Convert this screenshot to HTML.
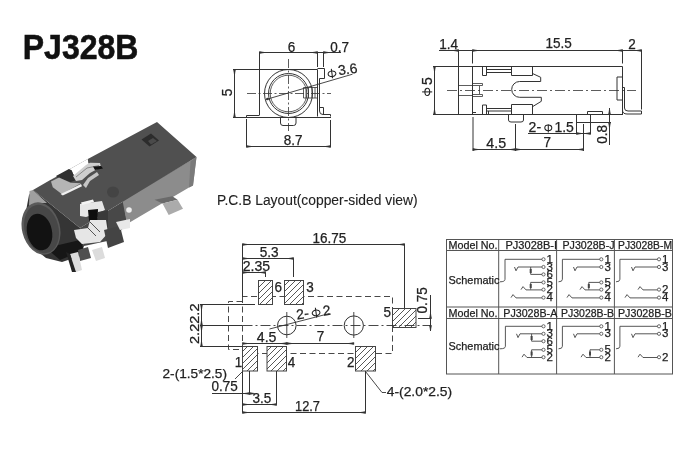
<!DOCTYPE html>
<html><head><meta charset="utf-8">
<style>
html,body{margin:0;padding:0;background:#fff;width:700px;height:450px;overflow:hidden}
svg{display:block;will-change:transform}
text{font-family:"Liberation Sans",sans-serif;fill:#222;stroke:#222;stroke-width:0.25px}
</style></head><body>
<svg width="700" height="450" viewBox="0 0 700 450">
<defs>
<pattern id="h" patternUnits="userSpaceOnUse" width="6" height="6">
<path d="M-1,7 L7,-1 M-2,2 L2,-2 M4,8 L8,4" stroke="#444" stroke-width="0.9"/>
</pattern>
</defs>
<rect width="700" height="450" fill="#fff"/>

<!-- TITLE -->
<text x="22.8" y="59" font-size="34.5" font-weight="bold" textLength="115.5" lengthAdjust="spacingAndGlyphs" style="fill:#111;stroke:#111;stroke-width:0.6px">PJ328B</text>

<!-- PHOTO -->
<g id="photo" stroke="none">
<!-- side face -->
<path d="M124,201 L80,228 L84,246 L112,240 L127,224 Z" fill="#484848"/>
<path d="M196.5,157 L193,185.6 L189,187.4 L127,224 L122.5,200.5 Z" fill="#8c8c8c"/>
<path d="M196.5,157 L193,185.6 L189,187.4 L190.5,161.5 Z" fill="#7a7a7a"/>
<!-- front face -->
<path d="M33,190 L80,228 L84,246 L80,256 L62,262 L46,258 L30,245 L24,222 L29,195 Z" fill="#353535"/>
<path d="M46,248 L80,240 L84,250 L60,260 Z" fill="#161616"/>
<!-- front-left lighter band -->
<path d="M29.5,191 L33,190 L47,203 L37,203 L29,206 Z" fill="#a0a0a0"/>
<!-- top face -->
<path d="M33,190 L49.4,180.6 L87.8,158.9 L157,122 L196.5,157 L126,199.8 L80,228 Z" fill="#505050"/>
<!-- notch (white) -->
<path d="M49.4,180.6 L58.3,175 L68.9,168.9 L71.7,170.6 L73.3,174.4 L78.3,177.2 L89.4,164 L88.3,163.3 L87.8,158.9 Z" fill="#fff"/>
<!-- bump -->
<path d="M56,176 L68.9,168.9 L71.7,170.6 L73.3,174.4 L78.3,177.2 L81,178.5 L70.6,182 L58,178 Z" fill="#303030"/>
<!-- silver -->
<path d="M51,181.5 L59,177.5 L70.6,182.8 L81,183.3 L61.7,194 L52.8,187.2 Z" fill="#b5b5b5"/>
<path d="M60.6,194 L81,184 L82,186.3 L62.8,195.5 Z" fill="#f0f0f0"/>
<!-- bent pins -->
<path d="M73,176 L86,165 L90,162.7 L100,163 L101,167 L90,173 L82,180 L76,181 Z" fill="#cfcfcf"/><path d="M76,177 L87,168 L99,165.5" fill="none" stroke="#777" stroke-width="0.8"/>
<path d="M83,185 L88,178 L97,172 L99,175 L90,181 L86,188 Z" fill="#c4c4c4"/>
<path d="M93,166.5 L101,166 L103,168.5 L95,170 Z" fill="#111"/>
<!-- square hole -->
<path d="M141.5,139.5 L151,133.5 L159,140.5 L149.5,146.5 Z" fill="#2c2c2c"/>
<path d="M148,141 L153,138 L157,141 L151,144.5 Z" fill="#4a4a4a"/>
<!-- dimple -->
<ellipse cx="113" cy="192" rx="6" ry="5.5" fill="#444"/>
<!-- barrel -->
<ellipse cx="41" cy="228.5" rx="19" ry="26.5" transform="rotate(-14 41 228.5)" fill="#5a5a5a"/>
<ellipse cx="41.5" cy="229" rx="17" ry="24.5" transform="rotate(-14 41.5 229)" fill="#474747"/>
<ellipse cx="39.5" cy="232" rx="12.5" ry="18.5" transform="rotate(-12 39.5 232)" fill="#121212"/>
<!-- tab -->
<path d="M154.5,199.8 L172.3,196.3 L177.6,199.8 L162.5,203.4 Z" fill="#6a6a6a"/>
<path d="M162.5,203.4 L177.6,199.8 L183,208.7 L168.7,215 Z" fill="#ababab"/>
<!-- white hole in side -->
<circle cx="129" cy="210" r="2.8" fill="#eee"/>
<!-- front contacts -->
<path d="M80,204 L102,201 L105,210 L98,213 L86,217 L80,216 Z" fill="#e6e6e6"/>
<path d="M81,202.5 L93,199.5 L94,202 L82,205 Z" fill="#f4f4f4"/>
<path d="M88,210 L98,209 L97,231 L90,231 Z" fill="#0e0e0e"/>
<path d="M98,212 L108,210 L108,229 L97,231 Z" fill="#3a3a3a"/>
<path d="M74,230 L88,228 L90,220 L106,220 L108,233 L100,242 L82,244 L76,238 Z" fill="#e6e6e6"/><path d="M88,228 L96,236 M90,222 L100,232" stroke="#555" stroke-width="1" fill="none"/>
<path d="M104,230 L120,226 L124,242 L108,248 Z" fill="#444"/>
<path d="M116,222 L130,219 L130,228 L120,230 Z" fill="#e8e8e8"/>
<path d="M78,250 L88,247 L91,258 L80,261 Z" fill="#505050"/>
<path d="M70,254 L78,252 L82,270 L76,272 Z" fill="#dcdcdc"/>
<path d="M92,250 L102,247 L105,258 L96,261 Z" fill="#dcdcdc"/>
<path d="M66,252 L70,254 L76,272 L72,272 Z" fill="#222"/>
</g>

<!-- FRONT VIEW -->
<g id="front" fill="none" stroke="#333" stroke-width="1">
<!-- dims top -->
<path d="M259.5,52.5 H341 M259.5,52 V115 M317.5,52 V67 M323.5,52 V67"/>
<path d="M259.5,51.5 l5,1 l-5,1z M317.5,51.5 l-5,1 l5,1z M323.5,51.5 l5,1 l-5,1z" fill="#333" stroke-width="0.6"/>
<!-- dim 5 -->
<path d="M234.5,69.5 V117.5 M233,69.5 H317.5 M233,117.5 H331"/>
<path d="M233.5,69.5 l1,5 l1,-5z M233.5,117.5 l1,-5 l1,5z" fill="#333" stroke-width="0.6"/>
<!-- body -->
<path d="M246.5,117.5 V115.5 H259.5 M317.5,69.5 V116.5 M317.5,68.5 H324.5 V78.5 H319.5 V111 Q319.5,114.5 323,114.5 H330.5 V116.5 M319.5,107.5 H323.5 V114.5"/>
<!-- circles -->
<circle cx="288.5" cy="93.5" r="24"/>
<circle cx="288.5" cy="93.5" r="20"/>
<circle cx="288.5" cy="93.5" r="18.3" stroke-width="0.8"/>
<!-- contact detail right of circle -->
<path d="M303.5,87.5 H317.5 M303.5,98 H317.5 M303.5,87.5 V98 M306,87.5 V98 M308.5,87.5 V98 M312,87.5 V98 M315,87.5 V98" stroke-width="0.8"/>
<!-- centerlines -->
<path d="M288.5,59 V131" stroke-dasharray="9 2.5 2 2.5" stroke-width="0.8"/>
<path d="M247,93.5 H331" stroke-dasharray="9 2.5 2 2.5" stroke-width="0.8"/>
<!-- bottom tab -->
<path d="M280.5,117.5 V123 Q280.5,125.5 283,125.5 H293.5 Q296,125.5 296,123 V117.5"/>
<!-- leader phi3.6 -->
<path d="M266,99.5 L352.5,74.2" stroke-width="0.9"/>
<circle cx="267.5" cy="99" r="1.3" fill="#333" stroke="none"/>
<!-- 8.7 dim -->
<path d="M246.5,119 V147 M330.5,120 V147 M246.5,146.5 H330.5"/>
<path d="M246.5,145.5 l5,1 l-5,1z M330.5,145.5 l-5,1 l5,1z" fill="#333" stroke-width="0.6"/>
</g>
<text x="287.8" y="51.7" font-size="14" textLength="7.51" lengthAdjust="spacingAndGlyphs">6</text>
<text x="330.2" y="51.7" font-size="14" textLength="18.77" lengthAdjust="spacingAndGlyphs">0.7</text>
<g transform="translate(332,73.8) rotate(-8)"><g transform="translate(0,0) rotate(0)" fill="none" stroke="#222" stroke-width="1.05"><ellipse cx="0" cy="0" rx="3.9" ry="2.8"/><path d="M0,-4.9 V4.5"/></g><text x="6.4" y="2.4" font-size="14">3.6</text></g>

<text x="283.7" y="144.7" font-size="14" textLength="18.77" lengthAdjust="spacingAndGlyphs">8.7</text>
<text transform="translate(231.6,96.3) rotate(-90)" font-size="14" textLength="7.51" lengthAdjust="spacingAndGlyphs">5</text>

<!-- SIDE VIEW -->
<g id="side" fill="none" stroke="#333" stroke-width="1">
<path d="M439,50.5 H641.5 M458.5,50 V114 M472.5,50 V63.5 M622.5,50 V63.5 M641.5,50 V109.5"/>
<path d="M458.5,49.5 l-5,1 l5,1z M472.5,49.5 l5,1 l-5,1z M622.5,49.5 l-5,1 l5,1z M641.5,49.5 l-5,1 l5,1z" fill="#333" stroke-width="0.6"/>
<path d="M433,66.5 H622.5 V114 M433,114.5 H623 M472.5,66.5 V114"/>
<path d="M434.5,66.5 V114.5"/>
<path d="M433.5,66.5 l1,5 l1,-5z M433.5,114.5 l1,-5 l1,5z" fill="#333" stroke-width="0.6"/>
<path d="M447,90.5 H636" stroke-dasharray="10 3 2 3" stroke-width="0.8"/>
<!-- left block inner -->
<path d="M458.5,85.5 H472.5 M458.5,95.5 H472.5" stroke-width="0.8"/>
<!-- pins -->
<path d="M472.5,83.5 H482.5 V85.5 H472.5 M472.5,94.5 H482.5 V96.5 H472.5 M479.5,86 V94" stroke-width="0.8"/>
<!-- top contact -->
<path d="M482.5,66.5 V75.5 H486.5 V66.5 M486.5,69.5 H511.5 M486.5,72.5 H511.5 M511.5,66.5 V75.5 H532.5 V66.5 M532.5,73.5 L540.7,77.3 V81.5 H519.6 A7.6,7.6 0 0 0 519.6,97.3 H541.3 V101.3 L532.5,106.7"/>
<!-- bottom contact -->
<path d="M472.5,112.5 H476 M482.5,114 V105 H486.5 V114 M486.5,108.5 H511.5 M486.5,111 H511.5 M488.5,111 V114 M511.5,114 V104.5 H532.5 V114"/>
<!-- tabs -->
<path d="M508.5,114.5 V120 Q508.5,122 511,122 H521 Q523.5,122 523.5,120 V114.5"/>
<path d="M576.5,114.5 V122.5 H590.5 V114.5"/>
<path d="M587.5,114 V111.5 H602.5 V114"/>
<!-- right bracket -->
<path d="M617,100 V77 H622.5 M617,100 H622.5 M622.5,87.5 H624.5 V108 Q624.5,111 628,111 H641.5 V114 H627 Q622.5,114 622.5,110"/>
<!-- 4.5 / 7 -->
<path d="M473,117 V151 M515.5,124 V151 M583.5,124 V151 M473,149.5 H583.5"/>
<path d="M473,148.5 l5,1 l-5,1z M515.5,148.5 l-5,1 l5,1z M515.5,148.5 l5,1 l-5,1z M583.5,148.5 l-5,1 l5,1z" fill="#333" stroke-width="0.6"/>
<!-- 2-phi1.5 -->
<path d="M528,133.5 H590.5 M576.5,122 V134 M590.5,122 V134"/>
<path d="M576.5,132.5 l5,1 l-5,1z M590.5,132.5 l-5,1 l5,1z" fill="#333" stroke-width="0.6"/>
<!-- 0.8 -->
<path d="M590.5,122.5 H611 M609.5,108 V145"/>
<path d="M608.5,114.5 l1,-5 l1,5z M608.5,122.5 l1,5 l1,-5z" fill="#333" stroke-width="0.6"/>
</g>
<text x="439.3" y="49.4" font-size="14" textLength="18.77" lengthAdjust="spacingAndGlyphs">1.4</text>
<text x="545.6" y="48.4" font-size="14" textLength="26.28" lengthAdjust="spacingAndGlyphs">15.5</text>
<text x="628.3" y="49.1" font-size="14" textLength="7.51" lengthAdjust="spacingAndGlyphs">2</text>
<g transform="translate(427.3,91.9) rotate(0)" fill="none" stroke="#222" stroke-width="1.05"><ellipse cx="0" cy="0" rx="2.4" ry="3.6"/><path d="M-5.2,0 H4.9"/></g><text transform="translate(431.9,84.9) rotate(-90)" font-size="14">5</text>
<text x="486.3" y="148.4" font-size="14" textLength="19.8" lengthAdjust="spacingAndGlyphs">4.5</text>
<text x="543.6" y="146.9" font-size="14" textLength="7.51" lengthAdjust="spacingAndGlyphs">7</text>
<text x="528.6" y="132.1" font-size="14">2-</text><g transform="translate(548.3,127.8) rotate(0)" fill="none" stroke="#222" stroke-width="1.05"><ellipse cx="0" cy="0" rx="3.5" ry="2.9"/><path d="M0,-3.4 V4.6"/></g><text x="554.4" y="132.1" font-size="14">1.5</text>
<text transform="translate(606.9,143.7) rotate(-90)" font-size="14" textLength="18.77" lengthAdjust="spacingAndGlyphs">0.8</text>

<!-- PCB -->
<text x="217" y="205" font-size="14" style="stroke-width:0.1px" textLength="200.5" lengthAdjust="spacingAndGlyphs">P.C.B Layout(copper-sided view)</text>
<g id="pcb" fill="none" stroke="#333" stroke-width="1">
<!-- 16.75 -->
<path d="M242.5,244.5 H404.5 M242.5,244 V297 M404.5,244 V308"/>
<path d="M242.5,243.5 l5,1 l-5,1z M404.5,243.5 l-5,1 l5,1z" fill="#333" stroke-width="0.6"/>
<!-- 5.3 -->
<path d="M242.5,258.5 H293.5 V277"/>
<path d="M242.5,257.5 l5,1 l-5,1z M293.5,257.5 l-5,1 l5,1z" fill="#333" stroke-width="0.6"/>
<!-- 2.35 -->
<path d="M242.5,272.5 H265.5 V277"/>
<path d="M242.5,271.5 l5,1 l-5,1z M265.5,271.5 l-5,1 l5,1z" fill="#333" stroke-width="0.6"/>
<!-- outline dashed -->
<path d="M242.5,297 V353.5 H392.5 V296.5 H242.5" stroke-dasharray="6 3.5" stroke-width="0.9"/>
<path d="M242.5,301.5 H228.5 V349.5 H242.5" stroke-dasharray="6 3.5" stroke-width="0.9"/>
<!-- pads -->
<g fill="#fff" stroke="none">
<rect x="258.5" y="280.5" width="14" height="24"/>
<rect x="284.5" y="280.5" width="19" height="24"/>
<rect x="242.5" y="346.5" width="15" height="24.5"/>
<rect x="267" y="346.5" width="19.5" height="24.5"/>
<rect x="355.5" y="346.5" width="20" height="24.5"/>
<rect x="392.5" y="308.5" width="23.5" height="19"/>
</g>
<g fill="url(#h)" stroke="#444">
<rect x="258.5" y="280.5" width="14" height="24"/>
<rect x="284.5" y="280.5" width="19" height="24"/>
<rect x="242.5" y="346.5" width="15" height="24.5"/>
<rect x="267" y="346.5" width="19.5" height="24.5"/>
<rect x="355.5" y="346.5" width="20" height="24.5"/>
<rect x="392.5" y="308.5" width="23.5" height="19"/>
</g>
<!-- 2.2 dims -->
<path d="M200,304.5 H255 M200,346.5 H242.5 M201.5,304.5 V346.5"/>
<path d="M200.5,304.5 l1,5 l1,-5z M200.5,325.5 l1,-5 l1,5z M200.5,325.5 l1,5 l1,-5z M200.5,346.5 l1,-5 l1,5z" fill="#333" stroke-width="0.6"/>
<path d="M200,325.5 H242.5"/>
<path d="M242.5,325.5 H431" stroke-dasharray="10 3 2 3" stroke-width="0.9"/>
<!-- holes -->
<circle cx="286.8" cy="325.5" r="9.3"/>
<circle cx="353.8" cy="325.5" r="9.6"/>
<path d="M286.8,312 V338 M353.8,312 V338" stroke-width="0.9"/>
<!-- leader 2-phi2 -->
<path d="M269.5,329 L329.5,313.5" stroke-width="0.9"/>
<!-- 4.5 / 7 -->
<path d="M242.5,343.5 H353.8"/>
<path d="M242.5,342.5 l5,1 l-5,1z M286.8,342.5 l-5,1 l5,1z M286.8,342.5 l5,1 l-5,1z M353.8,342.5 l-5,1 l5,1z" fill="#333" stroke-width="0.6"/>
<!-- 0.75 right -->
<path d="M418,318.5 H431 M430.5,295 V331"/>
<path d="M429.5,318.5 l1,-5 l1,5z M429.5,325.5 l1,5 l1,-5z" fill="#333" stroke-width="0.6"/>
<!-- bottom dims -->
<path d="M242.5,371 V412.5 M249.5,371 V393.5 M276.5,371 V404.5 M365.5,371 V412.5"/>
<path d="M212,393.5 H253 M242.5,404.5 H276.5 M242.5,412.5 H365.5"/>
<path d="M249.5,392.5 l-5,1 l5,1z M249.5,392.5 l5,1 l-5,1z M242.5,403.5 l5,1 l-5,1z M276.5,403.5 l-5,1 l5,1z M242.5,411.5 l5,1 l-5,1z M365.5,411.5 l-5,1 l5,1z" fill="#333" stroke-width="0.6"/>
<!-- leaders -->
<path d="M235,379 L243,371 M365.5,371.5 L382,392.5 H386" stroke-width="0.9"/>
</g>
<text x="312.5" y="242.8" font-size="14" textLength="33.78" lengthAdjust="spacingAndGlyphs">16.75</text>
<text x="259.7" y="257" font-size="14" textLength="18.9" lengthAdjust="spacingAndGlyphs">5.3</text>
<text x="242.8" y="271.2" font-size="14.5" textLength="27.4" lengthAdjust="spacingAndGlyphs">2.35</text>
<text x="274.6" y="291.7" font-size="14" textLength="7.51" lengthAdjust="spacingAndGlyphs">6</text>
<text x="306.2" y="291.7" font-size="14" textLength="7.51" lengthAdjust="spacingAndGlyphs">3</text>
<text x="383.6" y="316.7" font-size="14" textLength="7.51" lengthAdjust="spacingAndGlyphs">5</text>
<text x="234.8" y="366.8" font-size="14" textLength="7.51" lengthAdjust="spacingAndGlyphs">1</text>
<text x="287.8" y="366.8" font-size="14" textLength="7.51" lengthAdjust="spacingAndGlyphs">4</text>
<text x="347" y="366.8" font-size="14" textLength="7.51" lengthAdjust="spacingAndGlyphs">2</text>
<text x="256.8" y="341.6" font-size="14" textLength="19.7" lengthAdjust="spacingAndGlyphs">4.5</text>
<text x="316.8" y="340.7" font-size="14" textLength="7.51" lengthAdjust="spacingAndGlyphs">7</text>
<text transform="translate(198.8,344) rotate(-90)" font-size="13.5" textLength="40.5" lengthAdjust="spacingAndGlyphs">2.22.2</text>
<text transform="translate(427.3,313.5) rotate(-90)" font-size="14" textLength="26.28" lengthAdjust="spacingAndGlyphs">0.75</text>
<g transform="translate(297.1,319.4) rotate(-8)"><text x="0" y="0" font-size="14">2-</text><g transform="translate(19.7,-3.8) rotate(0)" fill="none" stroke="#222" stroke-width="1.05"><ellipse cx="0" cy="0" rx="3.9" ry="2.8"/><path d="M0,-5.2 V4.8"/></g><text x="26.6" y="0" font-size="14">2</text></g>
<text x="162.5" y="378" font-size="13.5" textLength="64.5" lengthAdjust="spacingAndGlyphs">2-(1.5*2.5)</text>
<text x="211.6" y="391.4" font-size="14" textLength="26.28" lengthAdjust="spacingAndGlyphs">0.75</text>
<text x="252.5" y="402.6" font-size="14" textLength="18.77" lengthAdjust="spacingAndGlyphs">3.5</text>
<text x="295" y="410.7" font-size="14" textLength="25" lengthAdjust="spacingAndGlyphs">12.7</text>
<text x="386.7" y="396.4" font-size="13.5" textLength="65.5" lengthAdjust="spacingAndGlyphs">4-(2.0*2.5)</text>

<!-- TABLE -->
<g id="table" fill="none" stroke="#555" stroke-width="1">
<rect x="446.5" y="239.5" width="226" height="134.5"/>
<path d="M447,250.5 H672.5 M447,307 H672.5 M447,318.5 H672.5 M498.7,240 V374 M556.6,240 V374 M614.4,240 V374"/>
</g>
<g font-size="11" style="stroke-width:0.1px">
<text x="448.5" y="249.2" textLength="49" lengthAdjust="spacingAndGlyphs">Model No.</text>
<text x="505.5" y="249.2" textLength="51.5" lengthAdjust="spacingAndGlyphs">PJ3028B-I</text>
<text x="562.5" y="249.2" textLength="52" lengthAdjust="spacingAndGlyphs">PJ3028B-J</text>
<text x="618" y="249.2" textLength="54" lengthAdjust="spacingAndGlyphs">PJ3028B-M</text>
<text x="448.5" y="284.2" textLength="51" lengthAdjust="spacingAndGlyphs">Schematic</text>
<text x="448.5" y="316.6" textLength="49" lengthAdjust="spacingAndGlyphs">Model No.</text>
<text x="503.3" y="316.6" textLength="54" lengthAdjust="spacingAndGlyphs">PJ3028B-A</text>
<text x="561" y="316.6" textLength="53" lengthAdjust="spacingAndGlyphs">PJ3028B-B</text>
<text x="618" y="316.6" textLength="54" lengthAdjust="spacingAndGlyphs">PJ3028B-B</text>
<text x="448.5" y="349.9" textLength="51" lengthAdjust="spacingAndGlyphs">Schematic</text>
</g>
<g fill="none" stroke="#444"><path d="M541.9,259.3 H505 V279.3 Q505,281.8 500,281.8" stroke-width="0.9"/><circle cx="543.5" cy="259.3" r="1.6" stroke-width="0.8"/><path d="M514.5,267.0 L516.0,270.8 L518.0,267.0 H541.9" stroke-width="0.9"/><circle cx="543.5" cy="267" r="1.6" stroke-width="0.8"/><path d="M530.7,274.4 H541.9" stroke-width="0.9"/><circle cx="543.5" cy="274.4" r="1.6" stroke-width="0.8"/><path d="M530.7,282.4 H541.9" stroke-width="0.9"/><circle cx="543.5" cy="282.4" r="1.6" stroke-width="0.8"/><path d="M521,289.6 L523,286.6 L526,289.90000000000003 H541.9" stroke-width="0.9"/><circle cx="543.5" cy="289.6" r="1.6" stroke-width="0.8"/><path d="M511,297.6 L513,294.6 L516,297.90000000000003 H541.9" stroke-width="0.9"/><circle cx="543.5" cy="297.6" r="1.6" stroke-width="0.8"/><path d="M530.7,267 V274.4 M530.7,282.4 V289.6" stroke-width="0.9"/><path d="M529.7,269 h2 v4 h-2z M529.7,284 h2 v4 h-2z" fill="#444" stroke="none"/><path d="M599.6999999999999,259.3 H562.4 V279.3 Q562.4,281.8 558.5,281.8" stroke-width="0.9"/><circle cx="601.3" cy="259.3" r="1.6" stroke-width="0.8"/><path d="M573.5,267.0 L575.0,270.8 L577.0,267.0 H599.6999999999999" stroke-width="0.9"/><circle cx="601.3" cy="267" r="1.6" stroke-width="0.8"/><path d="M588.8,282.4 H599.6999999999999" stroke-width="0.9"/><circle cx="601.3" cy="282.4" r="1.6" stroke-width="0.8"/><path d="M580,289.6 L582,286.6 L585,289.90000000000003 H599.6999999999999" stroke-width="0.9"/><circle cx="601.3" cy="289.6" r="1.6" stroke-width="0.8"/><path d="M567,297.6 L569,294.6 L572,297.90000000000003 H599.6999999999999" stroke-width="0.9"/><circle cx="601.3" cy="297.6" r="1.6" stroke-width="0.8"/><path d="M588.8,282.4 V289.6" stroke-width="0.9"/><path d="M587.8,284 h2 v4 h-2z" fill="#444" stroke="none"/><path d="M657.4,259.3 H619.9 V279.3 Q619.9,281.8 616,281.8" stroke-width="0.9"/><circle cx="659" cy="259.3" r="1.6" stroke-width="0.8"/><path d="M631.5,267.0 L633.0,270.8 L635.0,267.0 H657.4" stroke-width="0.9"/><circle cx="659" cy="267" r="1.6" stroke-width="0.8"/><path d="M638,289.6 L640,286.6 L643,289.90000000000003 H657.4" stroke-width="0.9"/><circle cx="659" cy="289.6" r="1.6" stroke-width="0.8"/><path d="M625,297.6 L627,294.6 L630,297.90000000000003 H657.4" stroke-width="0.9"/><circle cx="659" cy="297.6" r="1.6" stroke-width="0.8"/><path d="M541.9,326.3 H505.4 V346.3 Q505.4,348.8 500,348.8" stroke-width="0.9"/><circle cx="543.5" cy="326.3" r="1.6" stroke-width="0.8"/><path d="M516.5,333.8 L518.0,337.6 L520.0,333.8 H541.9" stroke-width="0.9"/><circle cx="543.5" cy="333.8" r="1.6" stroke-width="0.8"/><path d="M531.6,341.2 H541.9" stroke-width="0.9"/><circle cx="543.5" cy="341.2" r="1.6" stroke-width="0.8"/><path d="M531.6,349.8 H541.9" stroke-width="0.9"/><circle cx="543.5" cy="349.8" r="1.6" stroke-width="0.8"/><path d="M522,357.2 L524,354.2 L527,357.5 H541.9" stroke-width="0.9"/><circle cx="543.5" cy="357.2" r="1.6" stroke-width="0.8"/><path d="M531.6,333.8 V341.2 M531.6,349.8 V357.2" stroke-width="0.9"/><path d="M530.6,336 h2 v4 h-2z M530.6,351.5 h2 v4 h-2z" fill="#444" stroke="none"/><path d="M599.6999999999999,326.3 H562.4 V346.3 Q562.4,348.8 558.5,348.8" stroke-width="0.9"/><circle cx="601.3" cy="326.3" r="1.6" stroke-width="0.8"/><path d="M573.5,333.8 L575.0,337.6 L577.0,333.8 H599.6999999999999" stroke-width="0.9"/><circle cx="601.3" cy="333.8" r="1.6" stroke-width="0.8"/><path d="M590,349.8 H599.6999999999999" stroke-width="0.9"/><circle cx="601.3" cy="349.8" r="1.6" stroke-width="0.8"/><path d="M581,357.2 L583,354.2 L586,357.5 H599.6999999999999" stroke-width="0.9"/><circle cx="601.3" cy="357.2" r="1.6" stroke-width="0.8"/><path d="M590,349.8 V357.2" stroke-width="0.9"/><path d="M589,351.5 h2 v4 h-2z" fill="#444" stroke="none"/><path d="M657.4,326.3 H619.9 V346.3 Q619.9,348.8 616,348.8" stroke-width="0.9"/><circle cx="659" cy="326.3" r="1.6" stroke-width="0.8"/><path d="M631.5,333.8 L633.0,337.6 L635.0,333.8 H657.4" stroke-width="0.9"/><circle cx="659" cy="333.8" r="1.6" stroke-width="0.8"/><path d="M638,357.2 L640,354.2 L643,357.5 H657.4" stroke-width="0.9"/><circle cx="659" cy="357.2" r="1.6" stroke-width="0.8"/></g><g font-size="11.5" style="stroke-width:0px"><text x="546.6" y="262.9">1</text><text x="546.6" y="270.6">3</text><text x="546.6" y="278.0">6</text><text x="546.6" y="286.0">5</text><text x="546.6" y="293.2">2</text><text x="546.6" y="301.2">4</text><text x="604.4" y="262.9">1</text><text x="604.4" y="270.6">3</text><text x="604.4" y="286.0">5</text><text x="604.4" y="293.2">2</text><text x="604.4" y="301.2">4</text><text x="662.1" y="262.9">1</text><text x="662.1" y="270.6">3</text><text x="662.1" y="293.2">2</text><text x="662.1" y="301.2">4</text><text x="546.6" y="329.9">1</text><text x="546.6" y="337.4">3</text><text x="546.6" y="344.8">6</text><text x="546.6" y="353.4">5</text><text x="546.6" y="360.8">2</text><text x="604.4" y="329.9">1</text><text x="604.4" y="337.4">3</text><text x="604.4" y="353.4">5</text><text x="604.4" y="360.8">2</text><text x="662.1" y="329.9">1</text><text x="662.1" y="337.4">3</text><text x="662.1" y="360.8">2</text></g>
</svg>
</body></html>
